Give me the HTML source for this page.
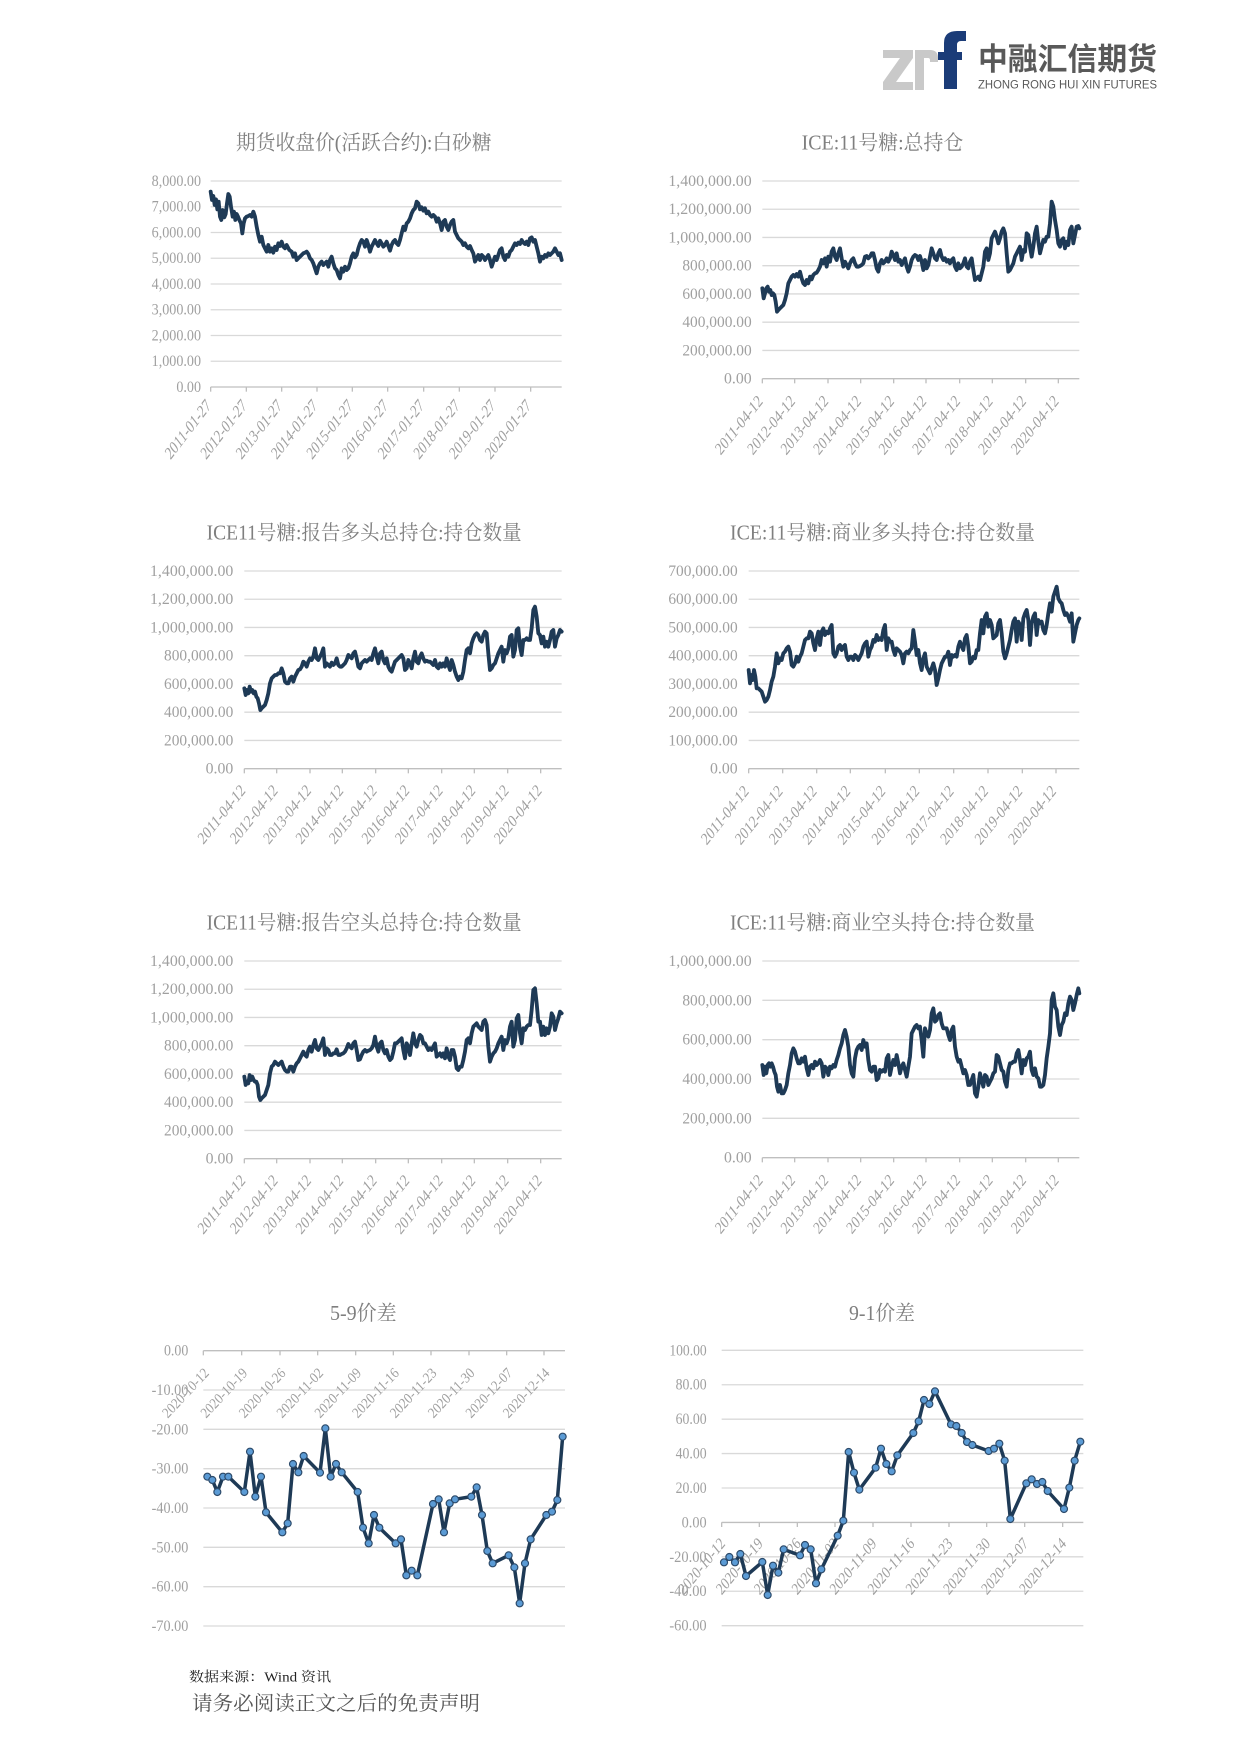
<!DOCTYPE html>
<html><head><meta charset="utf-8"><style>
html,body{margin:0;padding:0;background:#fff;}
svg{display:block;}
.t{font-family:"Liberation Serif","Noto Serif CJK SC",serif;fill:#7f7f7f;}
.y{font-family:"Liberation Serif",serif;fill:#a0a0a0;font-size:47px;text-anchor:end;}
.x{font-family:"Liberation Serif",serif;fill:#a0a0a0;font-size:42px;text-anchor:end;dominant-baseline:central;}
.g{stroke:#d9d9d9;stroke-width:4;}
.ax{stroke:#bfbfbf;stroke-width:4;}
.s{fill:none;stroke:#1e3a56;stroke-width:11.5;stroke-linejoin:round;stroke-linecap:round;}
.m{fill:#5b9bd5;stroke:#2c4a6a;stroke-width:3.5;}
</style></head><body>
<svg width="1240" height="1753" viewBox="0 0 1240 1753" xmlns="http://www.w3.org/2000/svg">
<rect width="1240" height="1753" fill="#fff"/>

<!-- LOGO -->
<polygon points="883,50 913,50 913,58 896,82 913,82 913,90 883,90 883,82 900,58 883,58" fill="#c9c9c9"/>
<path d="M915,90 V50 H930 Q938,50 938,58 V62 H930 V60 Q930,58 928,58 H924 V90 Z" fill="#c9c9c9"/>
<path d="M944,89 V43 Q944,31 957,31 H966 V41 H961 Q957,41 957,45 V89 Z" fill="#1b3c78"/>
<rect x="938" y="52" width="24" height="8" fill="#1b3c78"/>
<text x="978" y="70" font-family="'Noto Sans CJK SC',sans-serif" font-weight="bold" font-size="31" fill="#595959" textLength="179" lengthAdjust="spacingAndGlyphs">中融汇信期货</text>
<text x="978" y="88.5" font-family="'Liberation Sans',sans-serif" font-size="11.5" fill="#595959" textLength="179" lengthAdjust="spacingAndGlyphs">ZHONG RONG HUI XIN FUTURES</text>

<!-- CHART 1 -->
<g transform="translate(130,120) scale(0.33333)">
<text class="t" x="701.5" y="88" font-size="62" text-anchor="middle" textLength="767" lengthAdjust="spacingAndGlyphs">期货收盘价(活跃合约):白砂糖</text>
<line class="g" x1="242" x2="1295" y1="183" y2="183"/>
<line class="g" x1="242" x2="1295" y1="260.25" y2="260.25"/>
<line class="g" x1="242" x2="1295" y1="337.5" y2="337.5"/>
<line class="g" x1="242" x2="1295" y1="414.75" y2="414.75"/>
<line class="g" x1="242" x2="1295" y1="492" y2="492"/>
<line class="g" x1="242" x2="1295" y1="569.25" y2="569.25"/>
<line class="g" x1="242" x2="1295" y1="646.5" y2="646.5"/>
<line class="g" x1="242" x2="1295" y1="723.75" y2="723.75"/>
<line class="ax" x1="242" x2="1295" y1="801" y2="801"/>
<g class="ax"><line x1="242" x2="242" y1="801" y2="815"/><line x1="349" x2="349" y1="801" y2="815"/><line x1="455" x2="455" y1="801" y2="815"/><line x1="561" x2="561" y1="801" y2="815"/><line x1="667" x2="667" y1="801" y2="815"/><line x1="773" x2="773" y1="801" y2="815"/><line x1="881" x2="881" y1="801" y2="815"/><line x1="988" x2="988" y1="801" y2="815"/><line x1="1095" x2="1095" y1="801" y2="815"/><line x1="1202" x2="1202" y1="801" y2="815"/></g>
<text class="y" x="213" y="198" textLength="148" lengthAdjust="spacingAndGlyphs">8,000.00</text>
<text class="y" x="213" y="275.25" textLength="148" lengthAdjust="spacingAndGlyphs">7,000.00</text>
<text class="y" x="213" y="352.5" textLength="148" lengthAdjust="spacingAndGlyphs">6,000.00</text>
<text class="y" x="213" y="429.75" textLength="148" lengthAdjust="spacingAndGlyphs">5,000.00</text>
<text class="y" x="213" y="507" textLength="148" lengthAdjust="spacingAndGlyphs">4,000.00</text>
<text class="y" x="213" y="584.25" textLength="148" lengthAdjust="spacingAndGlyphs">3,000.00</text>
<text class="y" x="213" y="661.5" textLength="148" lengthAdjust="spacingAndGlyphs">2,000.00</text>
<text class="y" x="213" y="738.75" textLength="148" lengthAdjust="spacingAndGlyphs">1,000.00</text>
<text class="y" x="213" y="816" textLength="74" lengthAdjust="spacingAndGlyphs">0.00</text>
<text class="x" transform="translate(236,848) scale(1,1.3) rotate(-45)" textLength="175" lengthAdjust="spacingAndGlyphs">2011-01-27</text>
<text class="x" transform="translate(343,848) scale(1,1.3) rotate(-45)" textLength="175" lengthAdjust="spacingAndGlyphs">2012-01-27</text>
<text class="x" transform="translate(449,848) scale(1,1.3) rotate(-45)" textLength="175" lengthAdjust="spacingAndGlyphs">2013-01-27</text>
<text class="x" transform="translate(555,848) scale(1,1.3) rotate(-45)" textLength="175" lengthAdjust="spacingAndGlyphs">2014-01-27</text>
<text class="x" transform="translate(661,848) scale(1,1.3) rotate(-45)" textLength="175" lengthAdjust="spacingAndGlyphs">2015-01-27</text>
<text class="x" transform="translate(767,848) scale(1,1.3) rotate(-45)" textLength="175" lengthAdjust="spacingAndGlyphs">2016-01-27</text>
<text class="x" transform="translate(875,848) scale(1,1.3) rotate(-45)" textLength="175" lengthAdjust="spacingAndGlyphs">2017-01-27</text>
<text class="x" transform="translate(982,848) scale(1,1.3) rotate(-45)" textLength="175" lengthAdjust="spacingAndGlyphs">2018-01-27</text>
<text class="x" transform="translate(1089,848) scale(1,1.3) rotate(-45)" textLength="175" lengthAdjust="spacingAndGlyphs">2019-01-27</text>
<text class="x" transform="translate(1196,848) scale(1,1.3) rotate(-45)" textLength="175" lengthAdjust="spacingAndGlyphs">2020-01-27</text>
<polyline class="s" points="242,215 246,240 250,228 254,255 258,238 262,268 266,245 270,290 274,300 278,270 283,292 287,282 291,250 295,222 299,230 303,260 308,290 312,275 316,300 320,282 324,290 328,300 333,310 337,340 341,310 345,295 350,290 355,288 360,285 365,290 370,275 375,290 380,320 385,345 390,365 395,350 400,375 405,385 410,395 415,375 420,395 425,385 430,398 435,380 440,390 445,370 450,378 455,365 460,380 465,385 470,375 478,390 485,395 490,410 495,400 500,420 505,415 510,410 515,405 520,400 525,398 530,395 535,402 540,415 545,420 550,430 555,445 560,460 565,440 570,430 575,425 580,435 585,430 590,425 595,440 600,420 605,410 610,430 615,445 620,450 625,465 630,475 635,445 640,455 645,440 650,450 655,445 660,430 665,410 670,400 675,412 680,405 685,385 690,370 695,360 700,365 705,380 710,360 715,375 720,395 725,380 730,370 735,360 740,370 745,378 750,362 755,370 760,380 765,375 770,365 775,378 780,392 785,375 790,365 795,360 800,370 805,375 810,360 815,340 820,320 825,330 830,310 835,305 840,295 845,280 850,270 855,265 860,245 865,250 870,268 875,262 880,272 885,265 890,280 895,275 900,285 905,290 910,285 915,290 920,305 925,295 930,310 935,330 940,305 945,300 950,320 955,330 960,315 965,305 970,300 975,335 980,345 985,355 990,360 995,365 1000,375 1005,370 1010,380 1015,385 1020,378 1025,390 1030,400 1035,425 1040,415 1045,405 1050,420 1055,405 1060,410 1065,420 1070,412 1075,405 1080,420 1085,440 1090,425 1095,410 1100,420 1105,405 1110,390 1115,385 1120,410 1125,420 1130,405 1135,410 1140,395 1145,390 1150,380 1155,370 1160,375 1165,368 1170,372 1175,360 1180,368 1185,372 1190,365 1195,375 1200,355 1205,352 1210,365 1215,360 1220,380 1225,400 1230,425 1235,410 1240,415 1245,405 1250,410 1255,400 1260,405 1265,400 1270,395 1275,385 1280,395 1285,405 1290,400 1295,420"/>
</g>

<!-- CHART 2 -->
<g transform="translate(650,120) scale(0.33333)">
<text class="t" x="697.5" y="88" font-size="62" text-anchor="middle" textLength="485" lengthAdjust="spacingAndGlyphs">ICE:11号糖:总持仓</text>
<line class="g" x1="337" x2="1288" y1="183" y2="183"/>
<line class="g" x1="337" x2="1288" y1="267.7" y2="267.7"/>
<line class="g" x1="337" x2="1288" y1="352.4" y2="352.4"/>
<line class="g" x1="337" x2="1288" y1="437.1" y2="437.1"/>
<line class="g" x1="337" x2="1288" y1="521.8" y2="521.8"/>
<line class="g" x1="337" x2="1288" y1="606.5" y2="606.5"/>
<line class="g" x1="337" x2="1288" y1="691.2" y2="691.2"/>
<line class="ax" x1="337" x2="1288" y1="776" y2="776"/>
<g class="ax"><line x1="337" x2="337" y1="776" y2="790"/><line x1="434" x2="434" y1="776" y2="790"/><line x1="534" x2="534" y1="776" y2="790"/><line x1="632" x2="632" y1="776" y2="790"/><line x1="731" x2="731" y1="776" y2="790"/><line x1="828" x2="828" y1="776" y2="790"/><line x1="929" x2="929" y1="776" y2="790"/><line x1="1027" x2="1027" y1="776" y2="790"/><line x1="1127" x2="1127" y1="776" y2="790"/><line x1="1225" x2="1225" y1="776" y2="790"/></g>
<text class="y" x="305" y="198" textLength="250" lengthAdjust="spacingAndGlyphs">1,400,000.00</text>
<text class="y" x="305" y="282.7" textLength="250" lengthAdjust="spacingAndGlyphs">1,200,000.00</text>
<text class="y" x="305" y="367.4" textLength="250" lengthAdjust="spacingAndGlyphs">1,000,000.00</text>
<text class="y" x="305" y="452.1" textLength="208" lengthAdjust="spacingAndGlyphs">800,000.00</text>
<text class="y" x="305" y="536.8" textLength="208" lengthAdjust="spacingAndGlyphs">600,000.00</text>
<text class="y" x="305" y="621.5" textLength="208" lengthAdjust="spacingAndGlyphs">400,000.00</text>
<text class="y" x="305" y="706.2" textLength="208" lengthAdjust="spacingAndGlyphs">200,000.00</text>
<text class="y" x="305" y="791" textLength="83" lengthAdjust="spacingAndGlyphs">0.00</text>
<text class="x" transform="translate(332,836) scale(1,1.25) rotate(-45)" textLength="182" lengthAdjust="spacingAndGlyphs">2011-04-12</text>
<text class="x" transform="translate(429,836) scale(1,1.25) rotate(-45)" textLength="182" lengthAdjust="spacingAndGlyphs">2012-04-12</text>
<text class="x" transform="translate(529,836) scale(1,1.25) rotate(-45)" textLength="182" lengthAdjust="spacingAndGlyphs">2013-04-12</text>
<text class="x" transform="translate(627,836) scale(1,1.25) rotate(-45)" textLength="182" lengthAdjust="spacingAndGlyphs">2014-04-12</text>
<text class="x" transform="translate(726,836) scale(1,1.25) rotate(-45)" textLength="182" lengthAdjust="spacingAndGlyphs">2015-04-12</text>
<text class="x" transform="translate(823,836) scale(1,1.25) rotate(-45)" textLength="182" lengthAdjust="spacingAndGlyphs">2016-04-12</text>
<text class="x" transform="translate(924,836) scale(1,1.25) rotate(-45)" textLength="182" lengthAdjust="spacingAndGlyphs">2017-04-12</text>
<text class="x" transform="translate(1022,836) scale(1,1.25) rotate(-45)" textLength="182" lengthAdjust="spacingAndGlyphs">2018-04-12</text>
<text class="x" transform="translate(1122,836) scale(1,1.25) rotate(-45)" textLength="182" lengthAdjust="spacingAndGlyphs">2019-04-12</text>
<text class="x" transform="translate(1220,836) scale(1,1.25) rotate(-45)" textLength="182" lengthAdjust="spacingAndGlyphs">2020-04-12</text>
<polyline class="s" points="337,505 341,535 345,520 349,505 353,500 357,515 361,510 365,525 369,520 373,525 377,545 381,575 385,570 390,565 395,560 400,555 405,540 410,520 415,490 420,480 425,470 430,465 435,470 440,462 445,470 450,455 455,475 460,490 465,495 470,480 475,490 480,470 485,478 490,465 495,460 500,458 505,450 510,440 515,420 520,430 525,415 530,440 535,410 540,425 545,395 550,385 555,410 560,420 565,400 570,385 575,415 580,440 585,425 590,435 595,445 600,430 605,420 610,415 615,430 620,440 625,440 630,438 635,435 640,430 645,410 650,408 655,415 660,410 665,400 670,400 675,420 680,445 685,455 690,430 695,420 700,430 705,425 710,415 715,425 720,415 725,395 730,405 735,420 740,400 745,425 750,420 755,435 760,425 765,415 770,440 775,455 780,440 785,420 790,410 795,405 800,408 805,420 810,408 815,425 820,450 825,420 830,445 835,435 840,410 845,385 850,400 855,415 860,420 865,400 870,390 875,410 880,420 885,415 890,425 895,420 900,430 905,420 910,415 915,440 920,450 925,430 930,445 935,440 940,430 945,415 950,440 955,445 960,425 965,415 970,450 975,480 980,475 985,470 990,480 995,460 1000,440 1005,395 1010,385 1015,420 1020,400 1025,355 1030,345 1035,335 1040,350 1045,370 1050,355 1055,335 1060,325 1065,340 1070,400 1075,455 1080,450 1085,440 1090,430 1095,410 1100,400 1105,390 1110,380 1115,420 1120,390 1125,395 1130,340 1135,345 1140,380 1145,410 1150,380 1155,340 1160,320 1165,365 1170,400 1175,380 1180,360 1185,365 1190,350 1195,350 1200,310 1205,245 1210,260 1215,300 1220,330 1225,370 1230,380 1235,360 1240,355 1245,385 1250,365 1255,375 1260,330 1265,320 1270,370 1275,345 1280,320 1285,318 1288,325"/>
</g>

<!-- CHART 3 -->
<g transform="translate(150,510) scale(0.33333)">
<text class="t" x="642.5" y="88" font-size="62" text-anchor="middle" textLength="945" lengthAdjust="spacingAndGlyphs">ICE11号糖:报告多头总持仓:持仓数量</text>
<line class="g" x1="283" x2="1235" y1="183" y2="183"/>
<line class="g" x1="283" x2="1235" y1="267.7" y2="267.7"/>
<line class="g" x1="283" x2="1235" y1="352.4" y2="352.4"/>
<line class="g" x1="283" x2="1235" y1="437.1" y2="437.1"/>
<line class="g" x1="283" x2="1235" y1="521.8" y2="521.8"/>
<line class="g" x1="283" x2="1235" y1="606.5" y2="606.5"/>
<line class="g" x1="283" x2="1235" y1="691.2" y2="691.2"/>
<line class="ax" x1="283" x2="1235" y1="776" y2="776"/>
<g class="ax"><line x1="283" x2="283" y1="776" y2="790"/><line x1="380" x2="380" y1="776" y2="790"/><line x1="480" x2="480" y1="776" y2="790"/><line x1="577" x2="577" y1="776" y2="790"/><line x1="677" x2="677" y1="776" y2="790"/><line x1="775" x2="775" y1="776" y2="790"/><line x1="875" x2="875" y1="776" y2="790"/><line x1="973" x2="973" y1="776" y2="790"/><line x1="1073" x2="1073" y1="776" y2="790"/><line x1="1172" x2="1172" y1="776" y2="790"/></g>
<text class="y" x="250" y="198" textLength="250" lengthAdjust="spacingAndGlyphs">1,400,000.00</text>
<text class="y" x="250" y="282.7" textLength="250" lengthAdjust="spacingAndGlyphs">1,200,000.00</text>
<text class="y" x="250" y="367.4" textLength="250" lengthAdjust="spacingAndGlyphs">1,000,000.00</text>
<text class="y" x="250" y="452.1" textLength="208" lengthAdjust="spacingAndGlyphs">800,000.00</text>
<text class="y" x="250" y="536.8" textLength="208" lengthAdjust="spacingAndGlyphs">600,000.00</text>
<text class="y" x="250" y="621.5" textLength="208" lengthAdjust="spacingAndGlyphs">400,000.00</text>
<text class="y" x="250" y="706.2" textLength="208" lengthAdjust="spacingAndGlyphs">200,000.00</text>
<text class="y" x="250" y="791" textLength="83" lengthAdjust="spacingAndGlyphs">0.00</text>
<text class="x" transform="translate(280,834) scale(1,1.25) rotate(-45)" textLength="182" lengthAdjust="spacingAndGlyphs">2011-04-12</text>
<text class="x" transform="translate(377,834) scale(1,1.25) rotate(-45)" textLength="182" lengthAdjust="spacingAndGlyphs">2012-04-12</text>
<text class="x" transform="translate(477,834) scale(1,1.25) rotate(-45)" textLength="182" lengthAdjust="spacingAndGlyphs">2013-04-12</text>
<text class="x" transform="translate(574,834) scale(1,1.25) rotate(-45)" textLength="182" lengthAdjust="spacingAndGlyphs">2014-04-12</text>
<text class="x" transform="translate(674,834) scale(1,1.25) rotate(-45)" textLength="182" lengthAdjust="spacingAndGlyphs">2015-04-12</text>
<text class="x" transform="translate(772,834) scale(1,1.25) rotate(-45)" textLength="182" lengthAdjust="spacingAndGlyphs">2016-04-12</text>
<text class="x" transform="translate(872,834) scale(1,1.25) rotate(-45)" textLength="182" lengthAdjust="spacingAndGlyphs">2017-04-12</text>
<text class="x" transform="translate(970,834) scale(1,1.25) rotate(-45)" textLength="182" lengthAdjust="spacingAndGlyphs">2018-04-12</text>
<text class="x" transform="translate(1070,834) scale(1,1.25) rotate(-45)" textLength="182" lengthAdjust="spacingAndGlyphs">2019-04-12</text>
<text class="x" transform="translate(1169,834) scale(1,1.25) rotate(-45)" textLength="182" lengthAdjust="spacingAndGlyphs">2020-04-12</text>
<polyline class="s" points="283,535 287,555 291,540 295,550 299,530 303,545 307,540 311,550 315,545 319,560 323,565 327,580 331,600 335,595 340,590 345,585 350,570 355,550 360,520 365,505 370,500 375,495 380,495 385,490 390,490 395,475 400,490 405,515 410,520 415,520 420,505 425,500 430,515 435,500 440,490 445,480 450,478 455,470 460,455 465,460 470,470 475,455 480,445 485,450 490,440 495,415 500,445 505,450 510,440 515,430 520,415 525,470 530,460 535,465 540,470 545,458 550,465 555,460 560,445 565,465 570,470 575,470 580,465 585,460 590,450 595,435 600,440 605,445 610,430 615,425 620,445 625,470 630,475 635,460 640,455 645,450 650,455 655,450 660,445 665,450 670,430 675,415 680,440 685,460 690,430 695,425 700,450 705,460 710,445 715,470 720,480 725,485 730,470 735,455 740,450 745,445 750,440 755,435 760,445 765,480 770,475 775,450 780,460 785,475 790,445 795,425 800,455 805,460 810,440 815,430 820,445 825,455 830,452 835,455 840,455 845,460 850,465 855,450 860,470 865,475 870,460 875,470 880,460 885,470 890,445 895,465 900,480 905,450 910,465 915,485 920,500 925,510 930,500 935,505 940,485 945,450 950,420 955,415 960,430 965,400 970,385 975,375 980,370 985,375 990,390 995,395 1000,375 1005,365 1010,370 1015,430 1020,480 1025,475 1030,465 1035,460 1040,445 1045,430 1050,420 1055,410 1060,455 1065,420 1070,430 1075,415 1080,380 1085,375 1090,440 1095,420 1100,360 1105,355 1110,410 1115,435 1120,390 1125,390 1130,385 1135,390 1140,390 1145,355 1150,300 1155,290 1160,320 1165,370 1170,375 1175,400 1180,380 1185,410 1190,395 1195,410 1200,390 1205,365 1210,360 1215,410 1220,385 1225,375 1230,360 1235,365"/>
</g>

<!-- CHART 4 -->
<g transform="translate(650,510) scale(0.33333)">
<text class="t" x="697.5" y="88" font-size="62" text-anchor="middle" textLength="915" lengthAdjust="spacingAndGlyphs">ICE:11号糖:商业多头持仓:持仓数量</text>
<line class="g" x1="296" x2="1288" y1="183" y2="183"/>
<line class="g" x1="296" x2="1288" y1="267.7" y2="267.7"/>
<line class="g" x1="296" x2="1288" y1="352.4" y2="352.4"/>
<line class="g" x1="296" x2="1288" y1="437.1" y2="437.1"/>
<line class="g" x1="296" x2="1288" y1="521.8" y2="521.8"/>
<line class="g" x1="296" x2="1288" y1="606.5" y2="606.5"/>
<line class="g" x1="296" x2="1288" y1="691.2" y2="691.2"/>
<line class="ax" x1="296" x2="1288" y1="776" y2="776"/>
<g class="ax"><line x1="296" x2="296" y1="776" y2="790"/><line x1="398" x2="398" y1="776" y2="790"/><line x1="500" x2="500" y1="776" y2="790"/><line x1="601" x2="601" y1="776" y2="790"/><line x1="706" x2="706" y1="776" y2="790"/><line x1="808" x2="808" y1="776" y2="790"/><line x1="911" x2="911" y1="776" y2="790"/><line x1="1014" x2="1014" y1="776" y2="790"/><line x1="1117" x2="1117" y1="776" y2="790"/><line x1="1218" x2="1218" y1="776" y2="790"/></g>
<text class="y" x="263" y="198" textLength="208" lengthAdjust="spacingAndGlyphs">700,000.00</text>
<text class="y" x="263" y="282.7" textLength="208" lengthAdjust="spacingAndGlyphs">600,000.00</text>
<text class="y" x="263" y="367.4" textLength="208" lengthAdjust="spacingAndGlyphs">500,000.00</text>
<text class="y" x="263" y="452.1" textLength="208" lengthAdjust="spacingAndGlyphs">400,000.00</text>
<text class="y" x="263" y="536.8" textLength="208" lengthAdjust="spacingAndGlyphs">300,000.00</text>
<text class="y" x="263" y="621.5" textLength="208" lengthAdjust="spacingAndGlyphs">200,000.00</text>
<text class="y" x="263" y="706.2" textLength="208" lengthAdjust="spacingAndGlyphs">100,000.00</text>
<text class="y" x="263" y="791" textLength="83" lengthAdjust="spacingAndGlyphs">0.00</text>
<text class="x" transform="translate(290,836) scale(1,1.25) rotate(-45)" textLength="182" lengthAdjust="spacingAndGlyphs">2011-04-12</text>
<text class="x" transform="translate(392,836) scale(1,1.25) rotate(-45)" textLength="182" lengthAdjust="spacingAndGlyphs">2012-04-12</text>
<text class="x" transform="translate(494,836) scale(1,1.25) rotate(-45)" textLength="182" lengthAdjust="spacingAndGlyphs">2013-04-12</text>
<text class="x" transform="translate(595,836) scale(1,1.25) rotate(-45)" textLength="182" lengthAdjust="spacingAndGlyphs">2014-04-12</text>
<text class="x" transform="translate(700,836) scale(1,1.25) rotate(-45)" textLength="182" lengthAdjust="spacingAndGlyphs">2015-04-12</text>
<text class="x" transform="translate(802,836) scale(1,1.25) rotate(-45)" textLength="182" lengthAdjust="spacingAndGlyphs">2016-04-12</text>
<text class="x" transform="translate(905,836) scale(1,1.25) rotate(-45)" textLength="182" lengthAdjust="spacingAndGlyphs">2017-04-12</text>
<text class="x" transform="translate(1008,836) scale(1,1.25) rotate(-45)" textLength="182" lengthAdjust="spacingAndGlyphs">2018-04-12</text>
<text class="x" transform="translate(1111,836) scale(1,1.25) rotate(-45)" textLength="182" lengthAdjust="spacingAndGlyphs">2019-04-12</text>
<text class="x" transform="translate(1212,836) scale(1,1.25) rotate(-45)" textLength="182" lengthAdjust="spacingAndGlyphs">2020-04-12</text>
<polyline class="s" points="296,480 300,520 304,495 308,510 312,480 316,500 320,535 325,535 330,540 335,545 340,560 345,575 350,570 355,560 360,540 365,515 370,500 375,470 380,430 385,460 390,445 395,450 400,430 405,425 410,415 415,410 420,425 425,465 430,470 435,460 440,440 445,455 450,440 455,430 460,410 465,390 470,385 475,385 480,365 485,370 490,400 495,420 500,385 505,365 510,405 515,365 520,355 525,375 530,365 535,370 540,355 545,345 550,430 555,440 560,430 565,410 570,405 575,420 580,410 585,405 590,440 595,450 600,440 605,440 610,450 615,435 620,440 625,450 630,440 635,430 640,410 645,400 650,395 655,440 660,420 665,410 670,390 675,395 680,375 685,390 690,385 695,390 700,360 705,345 710,420 715,385 720,395 725,395 730,420 735,435 740,415 745,420 750,425 755,435 760,460 765,430 770,425 775,430 780,420 785,415 790,360 795,395 800,435 805,420 810,460 815,480 820,445 825,430 830,470 835,480 840,490 845,475 850,460 855,480 860,525 865,505 870,480 875,460 880,450 885,440 890,440 895,425 900,465 905,435 910,440 915,435 920,440 925,410 930,395 935,410 940,420 945,385 950,375 955,410 960,460 965,455 970,440 975,445 980,420 985,420 990,370 995,330 1000,370 1005,320 1010,310 1015,350 1020,330 1025,345 1030,385 1035,380 1040,375 1045,340 1050,330 1055,370 1060,425 1065,445 1070,430 1075,410 1080,390 1085,360 1090,335 1095,325 1100,395 1105,335 1110,345 1115,390 1120,325 1125,310 1130,300 1135,330 1140,405 1145,340 1150,320 1155,310 1160,375 1165,330 1170,340 1175,335 1180,360 1185,370 1190,345 1195,310 1200,280 1205,305 1210,260 1215,245 1220,230 1225,265 1230,275 1235,280 1240,300 1245,315 1250,310 1255,320 1260,335 1265,310 1270,395 1275,370 1280,345 1285,330 1288,325"/>
</g>

<!-- CHART 5 -->
<g transform="translate(150,900) scale(0.33333)">
<text class="t" x="642.5" y="88" font-size="62" text-anchor="middle" textLength="945" lengthAdjust="spacingAndGlyphs">ICE11号糖:报告空头总持仓:持仓数量</text>
<line class="g" x1="283" x2="1235" y1="183" y2="183"/>
<line class="g" x1="283" x2="1235" y1="267.7" y2="267.7"/>
<line class="g" x1="283" x2="1235" y1="352.4" y2="352.4"/>
<line class="g" x1="283" x2="1235" y1="437.1" y2="437.1"/>
<line class="g" x1="283" x2="1235" y1="521.8" y2="521.8"/>
<line class="g" x1="283" x2="1235" y1="606.5" y2="606.5"/>
<line class="g" x1="283" x2="1235" y1="691.2" y2="691.2"/>
<line class="ax" x1="283" x2="1235" y1="776" y2="776"/>
<g class="ax"><line x1="283" x2="283" y1="776" y2="790"/><line x1="380" x2="380" y1="776" y2="790"/><line x1="480" x2="480" y1="776" y2="790"/><line x1="577" x2="577" y1="776" y2="790"/><line x1="677" x2="677" y1="776" y2="790"/><line x1="775" x2="775" y1="776" y2="790"/><line x1="875" x2="875" y1="776" y2="790"/><line x1="973" x2="973" y1="776" y2="790"/><line x1="1073" x2="1073" y1="776" y2="790"/><line x1="1172" x2="1172" y1="776" y2="790"/></g>
<text class="y" x="250" y="198" textLength="250" lengthAdjust="spacingAndGlyphs">1,400,000.00</text>
<text class="y" x="250" y="282.7" textLength="250" lengthAdjust="spacingAndGlyphs">1,200,000.00</text>
<text class="y" x="250" y="367.4" textLength="250" lengthAdjust="spacingAndGlyphs">1,000,000.00</text>
<text class="y" x="250" y="452.1" textLength="208" lengthAdjust="spacingAndGlyphs">800,000.00</text>
<text class="y" x="250" y="536.8" textLength="208" lengthAdjust="spacingAndGlyphs">600,000.00</text>
<text class="y" x="250" y="621.5" textLength="208" lengthAdjust="spacingAndGlyphs">400,000.00</text>
<text class="y" x="250" y="706.2" textLength="208" lengthAdjust="spacingAndGlyphs">200,000.00</text>
<text class="y" x="250" y="791" textLength="83" lengthAdjust="spacingAndGlyphs">0.00</text>
<text class="x" transform="translate(280,834) scale(1,1.25) rotate(-45)" textLength="182" lengthAdjust="spacingAndGlyphs">2011-04-12</text>
<text class="x" transform="translate(377,834) scale(1,1.25) rotate(-45)" textLength="182" lengthAdjust="spacingAndGlyphs">2012-04-12</text>
<text class="x" transform="translate(477,834) scale(1,1.25) rotate(-45)" textLength="182" lengthAdjust="spacingAndGlyphs">2013-04-12</text>
<text class="x" transform="translate(574,834) scale(1,1.25) rotate(-45)" textLength="182" lengthAdjust="spacingAndGlyphs">2014-04-12</text>
<text class="x" transform="translate(674,834) scale(1,1.25) rotate(-45)" textLength="182" lengthAdjust="spacingAndGlyphs">2015-04-12</text>
<text class="x" transform="translate(772,834) scale(1,1.25) rotate(-45)" textLength="182" lengthAdjust="spacingAndGlyphs">2016-04-12</text>
<text class="x" transform="translate(872,834) scale(1,1.25) rotate(-45)" textLength="182" lengthAdjust="spacingAndGlyphs">2017-04-12</text>
<text class="x" transform="translate(970,834) scale(1,1.25) rotate(-45)" textLength="182" lengthAdjust="spacingAndGlyphs">2018-04-12</text>
<text class="x" transform="translate(1070,834) scale(1,1.25) rotate(-45)" textLength="182" lengthAdjust="spacingAndGlyphs">2019-04-12</text>
<text class="x" transform="translate(1169,834) scale(1,1.25) rotate(-45)" textLength="182" lengthAdjust="spacingAndGlyphs">2020-04-12</text>
<polyline class="s" points="283,530 287,555 291,545 295,550 299,525 303,540 307,530 311,540 315,545 319,545 323,555 327,590 331,600 335,595 340,590 345,585 350,570 355,555 360,520 365,500 370,495 375,485 380,490 385,495 390,490 395,485 400,500 405,510 410,515 415,515 420,500 425,500 430,515 435,500 440,490 445,485 450,475 455,465 460,455 465,465 470,470 475,450 480,440 485,455 490,435 495,420 500,445 505,450 510,440 515,430 520,415 525,465 530,445 535,450 540,465 545,465 550,460 555,460 560,448 565,465 570,465 575,462 580,460 585,455 590,445 595,432 600,440 605,445 610,430 615,425 620,450 625,480 630,478 635,465 640,455 645,450 650,455 655,452 660,450 665,445 670,435 675,410 680,440 685,455 690,430 695,425 700,450 705,460 710,450 715,470 720,480 725,475 730,455 735,430 740,430 745,425 750,420 755,415 760,450 765,475 770,430 775,440 780,465 785,430 790,400 795,430 800,440 805,420 810,405 815,410 820,430 825,430 830,440 835,450 840,445 845,450 850,440 855,430 860,470 865,465 870,460 875,470 880,460 885,475 890,445 895,470 900,480 905,450 910,450 915,470 920,505 925,510 930,500 935,500 940,480 945,455 950,420 955,415 960,430 965,400 970,380 975,375 980,370 985,380 990,385 995,390 1000,365 1005,360 1010,375 1015,440 1020,485 1025,470 1030,460 1035,455 1040,445 1045,430 1050,420 1055,410 1060,450 1065,420 1070,430 1075,415 1080,380 1085,365 1090,440 1095,420 1100,355 1105,345 1110,400 1115,430 1120,385 1125,390 1130,380 1135,375 1140,375 1145,330 1150,270 1155,265 1160,310 1165,365 1170,365 1175,405 1180,380 1185,405 1190,385 1195,400 1200,380 1205,340 1210,350 1215,390 1220,370 1225,355 1230,335 1235,340"/>
</g>

<!-- CHART 6 -->
<g transform="translate(650,900) scale(0.33333)">
<text class="t" x="697.5" y="88" font-size="62" text-anchor="middle" textLength="915" lengthAdjust="spacingAndGlyphs">ICE:11号糖:商业空头持仓:持仓数量</text>
<line class="g" x1="337" x2="1288" y1="183" y2="183"/>
<line class="g" x1="337" x2="1288" y1="301" y2="301"/>
<line class="g" x1="337" x2="1288" y1="419" y2="419"/>
<line class="g" x1="337" x2="1288" y1="537" y2="537"/>
<line class="g" x1="337" x2="1288" y1="655" y2="655"/>
<line class="ax" x1="337" x2="1288" y1="773" y2="773"/>
<g class="ax"><line x1="337" x2="337" y1="773" y2="787"/><line x1="434" x2="434" y1="773" y2="787"/><line x1="534" x2="534" y1="773" y2="787"/><line x1="632" x2="632" y1="773" y2="787"/><line x1="731" x2="731" y1="773" y2="787"/><line x1="828" x2="828" y1="773" y2="787"/><line x1="929" x2="929" y1="773" y2="787"/><line x1="1027" x2="1027" y1="773" y2="787"/><line x1="1127" x2="1127" y1="773" y2="787"/><line x1="1225" x2="1225" y1="773" y2="787"/></g>
<text class="y" x="305" y="198" textLength="250" lengthAdjust="spacingAndGlyphs">1,000,000.00</text>
<text class="y" x="305" y="316" textLength="208" lengthAdjust="spacingAndGlyphs">800,000.00</text>
<text class="y" x="305" y="434" textLength="208" lengthAdjust="spacingAndGlyphs">600,000.00</text>
<text class="y" x="305" y="552" textLength="208" lengthAdjust="spacingAndGlyphs">400,000.00</text>
<text class="y" x="305" y="670" textLength="208" lengthAdjust="spacingAndGlyphs">200,000.00</text>
<text class="y" x="305" y="788" textLength="83" lengthAdjust="spacingAndGlyphs">0.00</text>
<text class="x" transform="translate(332,833) scale(1,1.25) rotate(-45)" textLength="182" lengthAdjust="spacingAndGlyphs">2011-04-12</text>
<text class="x" transform="translate(429,833) scale(1,1.25) rotate(-45)" textLength="182" lengthAdjust="spacingAndGlyphs">2012-04-12</text>
<text class="x" transform="translate(529,833) scale(1,1.25) rotate(-45)" textLength="182" lengthAdjust="spacingAndGlyphs">2013-04-12</text>
<text class="x" transform="translate(627,833) scale(1,1.25) rotate(-45)" textLength="182" lengthAdjust="spacingAndGlyphs">2014-04-12</text>
<text class="x" transform="translate(726,833) scale(1,1.25) rotate(-45)" textLength="182" lengthAdjust="spacingAndGlyphs">2015-04-12</text>
<text class="x" transform="translate(823,833) scale(1,1.25) rotate(-45)" textLength="182" lengthAdjust="spacingAndGlyphs">2016-04-12</text>
<text class="x" transform="translate(924,833) scale(1,1.25) rotate(-45)" textLength="182" lengthAdjust="spacingAndGlyphs">2017-04-12</text>
<text class="x" transform="translate(1022,833) scale(1,1.25) rotate(-45)" textLength="182" lengthAdjust="spacingAndGlyphs">2018-04-12</text>
<text class="x" transform="translate(1122,833) scale(1,1.25) rotate(-45)" textLength="182" lengthAdjust="spacingAndGlyphs">2019-04-12</text>
<text class="x" transform="translate(1220,833) scale(1,1.25) rotate(-45)" textLength="182" lengthAdjust="spacingAndGlyphs">2020-04-12</text>
<polyline class="s" points="337,495 341,525 345,500 349,520 353,495 357,490 361,500 365,490 369,500 373,515 377,525 381,560 385,575 390,555 395,580 400,580 405,570 410,555 415,520 420,495 425,460 430,445 435,455 440,475 445,490 450,490 455,475 460,485 465,470 470,505 475,525 480,500 485,495 490,505 495,485 500,495 505,490 510,480 515,490 520,530 525,500 530,505 535,525 540,500 545,505 550,495 555,500 560,480 565,465 570,445 575,430 580,405 585,390 590,410 595,440 600,495 605,520 610,530 615,475 620,450 625,440 630,435 635,450 640,420 645,440 650,430 655,480 660,510 665,515 670,500 675,500 680,540 685,535 690,510 695,515 700,510 705,515 710,475 715,465 720,525 725,500 730,480 735,495 740,465 745,490 750,520 755,500 760,490 765,510 770,530 775,500 780,470 785,400 790,390 795,380 800,375 805,385 810,380 815,420 820,470 825,385 830,400 835,410 840,390 845,340 850,325 855,365 860,360 865,345 870,340 875,370 880,385 885,385 890,385 895,405 900,420 905,390 910,380 915,440 920,470 925,485 930,480 935,500 940,520 945,510 950,525 955,555 960,555 965,540 970,525 975,580 980,590 985,560 990,520 995,540 1000,560 1005,525 1010,530 1015,555 1020,545 1025,535 1030,520 1035,515 1040,465 1045,470 1050,490 1055,510 1060,515 1065,545 1070,560 1075,510 1080,490 1085,490 1090,485 1095,485 1100,460 1105,450 1110,480 1115,520 1120,480 1125,495 1130,475 1135,470 1140,455 1145,510 1150,525 1155,505 1160,530 1165,535 1170,560 1175,560 1180,555 1185,525 1190,475 1195,440 1200,400 1205,300 1210,280 1215,320 1220,330 1225,380 1230,405 1235,375 1240,365 1245,340 1250,345 1255,310 1260,290 1265,300 1270,330 1275,310 1280,285 1285,265 1288,280"/>
</g>

<!-- CHART 7 -->
<g transform="translate(140,1280) scale(0.33333)">
<text class="t" x="670" y="120" font-size="62" text-anchor="middle" textLength="200" lengthAdjust="spacingAndGlyphs">5-9价差</text>
<line class="ax" x1="190" x2="1275" y1="212" y2="212"/>
<line class="g" x1="190" x2="1275" y1="330" y2="330"/>
<line class="g" x1="190" x2="1275" y1="448" y2="448"/>
<line class="g" x1="190" x2="1275" y1="566" y2="566"/>
<line class="g" x1="190" x2="1275" y1="684" y2="684"/>
<line class="g" x1="190" x2="1275" y1="802" y2="802"/>
<line class="g" x1="190" x2="1275" y1="920" y2="920"/>
<line class="g" x1="190" x2="1275" y1="1038" y2="1038"/>
<g class="ax"><line x1="190" x2="190" y1="212" y2="226"/><line x1="305" x2="305" y1="212" y2="226"/><line x1="420" x2="420" y1="212" y2="226"/><line x1="533" x2="533" y1="212" y2="226"/><line x1="647" x2="647" y1="212" y2="226"/><line x1="760" x2="760" y1="212" y2="226"/><line x1="873" x2="873" y1="212" y2="226"/><line x1="987" x2="987" y1="212" y2="226"/><line x1="1100" x2="1100" y1="212" y2="226"/><line x1="1212" x2="1212" y1="212" y2="226"/></g>
<text class="y" x="145" y="227" textLength="73" lengthAdjust="spacingAndGlyphs">0.00</text>
<text class="y" x="145" y="345" textLength="110" lengthAdjust="spacingAndGlyphs">-10.00</text>
<text class="y" x="145" y="463" textLength="110" lengthAdjust="spacingAndGlyphs">-20.00</text>
<text class="y" x="145" y="581" textLength="110" lengthAdjust="spacingAndGlyphs">-30.00</text>
<text class="y" x="145" y="699" textLength="110" lengthAdjust="spacingAndGlyphs">-40.00</text>
<text class="y" x="145" y="817" textLength="110" lengthAdjust="spacingAndGlyphs">-50.00</text>
<text class="y" x="145" y="935" textLength="110" lengthAdjust="spacingAndGlyphs">-60.00</text>
<text class="y" x="145" y="1053" textLength="110" lengthAdjust="spacingAndGlyphs">-70.00</text>
<text class="x" transform="translate(201,273) scale(1,1.07) rotate(-45)" textLength="178" lengthAdjust="spacingAndGlyphs">2020-10-12</text>
<text class="x" transform="translate(316,273) scale(1,1.07) rotate(-45)" textLength="178" lengthAdjust="spacingAndGlyphs">2020-10-19</text>
<text class="x" transform="translate(431,273) scale(1,1.07) rotate(-45)" textLength="178" lengthAdjust="spacingAndGlyphs">2020-10-26</text>
<text class="x" transform="translate(544,273) scale(1,1.07) rotate(-45)" textLength="178" lengthAdjust="spacingAndGlyphs">2020-11-02</text>
<text class="x" transform="translate(658,273) scale(1,1.07) rotate(-45)" textLength="178" lengthAdjust="spacingAndGlyphs">2020-11-09</text>
<text class="x" transform="translate(771,273) scale(1,1.07) rotate(-45)" textLength="178" lengthAdjust="spacingAndGlyphs">2020-11-16</text>
<text class="x" transform="translate(884,273) scale(1,1.07) rotate(-45)" textLength="178" lengthAdjust="spacingAndGlyphs">2020-11-23</text>
<text class="x" transform="translate(998,273) scale(1,1.07) rotate(-45)" textLength="178" lengthAdjust="spacingAndGlyphs">2020-11-30</text>
<text class="x" transform="translate(1111,273) scale(1,1.07) rotate(-45)" textLength="178" lengthAdjust="spacingAndGlyphs">2020-12-07</text>
<text class="x" transform="translate(1223,273) scale(1,1.07) rotate(-45)" textLength="178" lengthAdjust="spacingAndGlyphs">2020-12-14</text>
<polyline class="s" style="stroke-width:10.5" points="202,590 217,600 232,636 249,590 265,590 313,636 330,515 346,650 363,590 378,697 427,757 443,730 459,552 475,577 491,528 540,578 556,445 572,590 588,552 605,577 653,636 669,743 686,790 702,705 718,743 767,790 783,778 799,886 815,872 832,886 879,672 896,658 912,757 929,670 945,658 994,650 1010,622 1026,705 1042,813 1058,850 1106,826 1123,862 1139,970 1155,850 1172,778 1219,705 1236,695 1252,660 1268,470"/>
<g class="m">
<circle cx="202" cy="590" r="10.5"/><circle cx="217" cy="600" r="10.5"/><circle cx="232" cy="636" r="10.5"/><circle cx="249" cy="590" r="10.5"/><circle cx="265" cy="590" r="10.5"/><circle cx="313" cy="636" r="10.5"/><circle cx="330" cy="515" r="10.5"/><circle cx="346" cy="650" r="10.5"/><circle cx="363" cy="590" r="10.5"/><circle cx="378" cy="697" r="10.5"/><circle cx="427" cy="757" r="10.5"/><circle cx="443" cy="730" r="10.5"/><circle cx="459" cy="552" r="10.5"/><circle cx="475" cy="577" r="10.5"/><circle cx="491" cy="528" r="10.5"/><circle cx="540" cy="578" r="10.5"/><circle cx="556" cy="445" r="10.5"/><circle cx="572" cy="590" r="10.5"/><circle cx="588" cy="552" r="10.5"/><circle cx="605" cy="577" r="10.5"/><circle cx="653" cy="636" r="10.5"/><circle cx="669" cy="743" r="10.5"/><circle cx="686" cy="790" r="10.5"/><circle cx="702" cy="705" r="10.5"/><circle cx="718" cy="743" r="10.5"/><circle cx="767" cy="790" r="10.5"/><circle cx="783" cy="778" r="10.5"/><circle cx="799" cy="886" r="10.5"/><circle cx="815" cy="872" r="10.5"/><circle cx="832" cy="886" r="10.5"/><circle cx="879" cy="672" r="10.5"/><circle cx="896" cy="658" r="10.5"/><circle cx="912" cy="757" r="10.5"/><circle cx="929" cy="670" r="10.5"/><circle cx="945" cy="658" r="10.5"/><circle cx="994" cy="650" r="10.5"/><circle cx="1010" cy="622" r="10.5"/><circle cx="1026" cy="705" r="10.5"/><circle cx="1042" cy="813" r="10.5"/><circle cx="1058" cy="850" r="10.5"/><circle cx="1106" cy="826" r="10.5"/><circle cx="1123" cy="862" r="10.5"/><circle cx="1139" cy="970" r="10.5"/><circle cx="1155" cy="850" r="10.5"/><circle cx="1172" cy="778" r="10.5"/><circle cx="1219" cy="705" r="10.5"/><circle cx="1236" cy="695" r="10.5"/><circle cx="1252" cy="660" r="10.5"/><circle cx="1268" cy="470" r="10.5"/>
</g>
</g>

<!-- CHART 8 -->
<g transform="translate(650,1280) scale(0.33333)">
<text class="t" x="696" y="120" font-size="62" text-anchor="middle" textLength="198" lengthAdjust="spacingAndGlyphs">9-1价差</text>
<line class="g" x1="215" x2="1300" y1="211" y2="211"/>
<line class="g" x1="215" x2="1300" y1="314.25" y2="314.25"/>
<line class="g" x1="215" x2="1300" y1="417.5" y2="417.5"/>
<line class="g" x1="215" x2="1300" y1="520.75" y2="520.75"/>
<line class="g" x1="215" x2="1300" y1="624" y2="624"/>
<line class="ax" x1="215" x2="1300" y1="727.25" y2="727.25"/>
<line class="g" x1="215" x2="1300" y1="830.5" y2="830.5"/>
<line class="g" x1="215" x2="1300" y1="933.75" y2="933.75"/>
<line class="g" x1="215" x2="1300" y1="1037" y2="1037"/>
<g class="ax"><line x1="215" x2="215" y1="727" y2="741"/><line x1="328" x2="328" y1="727" y2="741"/><line x1="442" x2="442" y1="727" y2="741"/><line x1="555" x2="555" y1="727" y2="741"/><line x1="669" x2="669" y1="727" y2="741"/><line x1="783" x2="783" y1="727" y2="741"/><line x1="897" x2="897" y1="727" y2="741"/><line x1="1010" x2="1010" y1="727" y2="741"/><line x1="1124" x2="1124" y1="727" y2="741"/><line x1="1238" x2="1238" y1="727" y2="741"/></g>
<text class="y" x="170" y="226" textLength="112" lengthAdjust="spacingAndGlyphs">100.00</text>
<text class="y" x="170" y="329.25" textLength="93" lengthAdjust="spacingAndGlyphs">80.00</text>
<text class="y" x="170" y="432.5" textLength="93" lengthAdjust="spacingAndGlyphs">60.00</text>
<text class="y" x="170" y="535.75" textLength="93" lengthAdjust="spacingAndGlyphs">40.00</text>
<text class="y" x="170" y="639" textLength="93" lengthAdjust="spacingAndGlyphs">20.00</text>
<text class="y" x="170" y="742.25" textLength="75" lengthAdjust="spacingAndGlyphs">0.00</text>
<text class="y" x="170" y="845.5" textLength="112" lengthAdjust="spacingAndGlyphs">-20.00</text>
<text class="y" x="170" y="948.75" textLength="112" lengthAdjust="spacingAndGlyphs">-40.00</text>
<text class="y" x="170" y="1052" textLength="112" lengthAdjust="spacingAndGlyphs">-60.00</text>
<text class="x" transform="translate(219,783) scale(1,1.22) rotate(-45)" textLength="178" lengthAdjust="spacingAndGlyphs">2020-10-12</text>
<text class="x" transform="translate(332,783) scale(1,1.22) rotate(-45)" textLength="178" lengthAdjust="spacingAndGlyphs">2020-10-19</text>
<text class="x" transform="translate(446,783) scale(1,1.22) rotate(-45)" textLength="178" lengthAdjust="spacingAndGlyphs">2020-10-26</text>
<text class="x" transform="translate(559,783) scale(1,1.22) rotate(-45)" textLength="178" lengthAdjust="spacingAndGlyphs">2020-11-02</text>
<text class="x" transform="translate(673,783) scale(1,1.22) rotate(-45)" textLength="178" lengthAdjust="spacingAndGlyphs">2020-11-09</text>
<text class="x" transform="translate(787,783) scale(1,1.22) rotate(-45)" textLength="178" lengthAdjust="spacingAndGlyphs">2020-11-16</text>
<text class="x" transform="translate(901,783) scale(1,1.22) rotate(-45)" textLength="178" lengthAdjust="spacingAndGlyphs">2020-11-23</text>
<text class="x" transform="translate(1014,783) scale(1,1.22) rotate(-45)" textLength="178" lengthAdjust="spacingAndGlyphs">2020-11-30</text>
<text class="x" transform="translate(1128,783) scale(1,1.22) rotate(-45)" textLength="178" lengthAdjust="spacingAndGlyphs">2020-12-07</text>
<text class="x" transform="translate(1242,783) scale(1,1.22) rotate(-45)" textLength="178" lengthAdjust="spacingAndGlyphs">2020-12-14</text>
<polyline class="s" style="stroke-width:10.5" points="222,847 238,831 255,847 271,822 288,888 337,846 353,945 369,857 385,878 401,808 450,826 465,795 482,808 498,910 514,868 563,767 580,722 596,516 612,578 628,629 677,563 693,506 709,552 725,574 742,526 790,459 806,424 822,360 838,372 855,334 903,433 919,438 935,459 951,486 967,495 1016,513 1032,506 1048,491 1064,542 1081,717 1129,610 1145,598 1161,612 1177,606 1193,633 1242,687 1258,623 1274,542 1291,485"/>
<g class="m">
<circle cx="222" cy="847" r="10.5"/><circle cx="238" cy="831" r="10.5"/><circle cx="255" cy="847" r="10.5"/><circle cx="271" cy="822" r="10.5"/><circle cx="288" cy="888" r="10.5"/><circle cx="337" cy="846" r="10.5"/><circle cx="353" cy="945" r="10.5"/><circle cx="369" cy="857" r="10.5"/><circle cx="385" cy="878" r="10.5"/><circle cx="401" cy="808" r="10.5"/><circle cx="450" cy="826" r="10.5"/><circle cx="465" cy="795" r="10.5"/><circle cx="482" cy="808" r="10.5"/><circle cx="498" cy="910" r="10.5"/><circle cx="514" cy="868" r="10.5"/><circle cx="563" cy="767" r="10.5"/><circle cx="580" cy="722" r="10.5"/><circle cx="596" cy="516" r="10.5"/><circle cx="612" cy="578" r="10.5"/><circle cx="628" cy="629" r="10.5"/><circle cx="677" cy="563" r="10.5"/><circle cx="693" cy="506" r="10.5"/><circle cx="709" cy="552" r="10.5"/><circle cx="725" cy="574" r="10.5"/><circle cx="742" cy="526" r="10.5"/><circle cx="790" cy="459" r="10.5"/><circle cx="806" cy="424" r="10.5"/><circle cx="822" cy="360" r="10.5"/><circle cx="838" cy="372" r="10.5"/><circle cx="855" cy="334" r="10.5"/><circle cx="903" cy="433" r="10.5"/><circle cx="919" cy="438" r="10.5"/><circle cx="935" cy="459" r="10.5"/><circle cx="951" cy="486" r="10.5"/><circle cx="967" cy="495" r="10.5"/><circle cx="1016" cy="513" r="10.5"/><circle cx="1032" cy="506" r="10.5"/><circle cx="1048" cy="491" r="10.5"/><circle cx="1064" cy="542" r="10.5"/><circle cx="1081" cy="717" r="10.5"/><circle cx="1129" cy="610" r="10.5"/><circle cx="1145" cy="598" r="10.5"/><circle cx="1161" cy="612" r="10.5"/><circle cx="1177" cy="606" r="10.5"/><circle cx="1193" cy="633" r="10.5"/><circle cx="1242" cy="687" r="10.5"/><circle cx="1258" cy="623" r="10.5"/><circle cx="1274" cy="542" r="10.5"/><circle cx="1291" cy="485" r="10.5"/>
</g>
</g>

<!-- FOOTER -->
<text x="189" y="1681.5" font-family="'Liberation Serif','Noto Serif CJK SC',serif" font-size="13.5" fill="#222" textLength="142" lengthAdjust="spacingAndGlyphs">数据来源：Wind 资讯</text>
<text x="192" y="1710" font-family="'Liberation Serif','Noto Serif CJK SC',serif" font-size="20" fill="#555" textLength="288" lengthAdjust="spacingAndGlyphs">请务必阅读正文之后的免责声明</text>
</svg>
</body></html>
